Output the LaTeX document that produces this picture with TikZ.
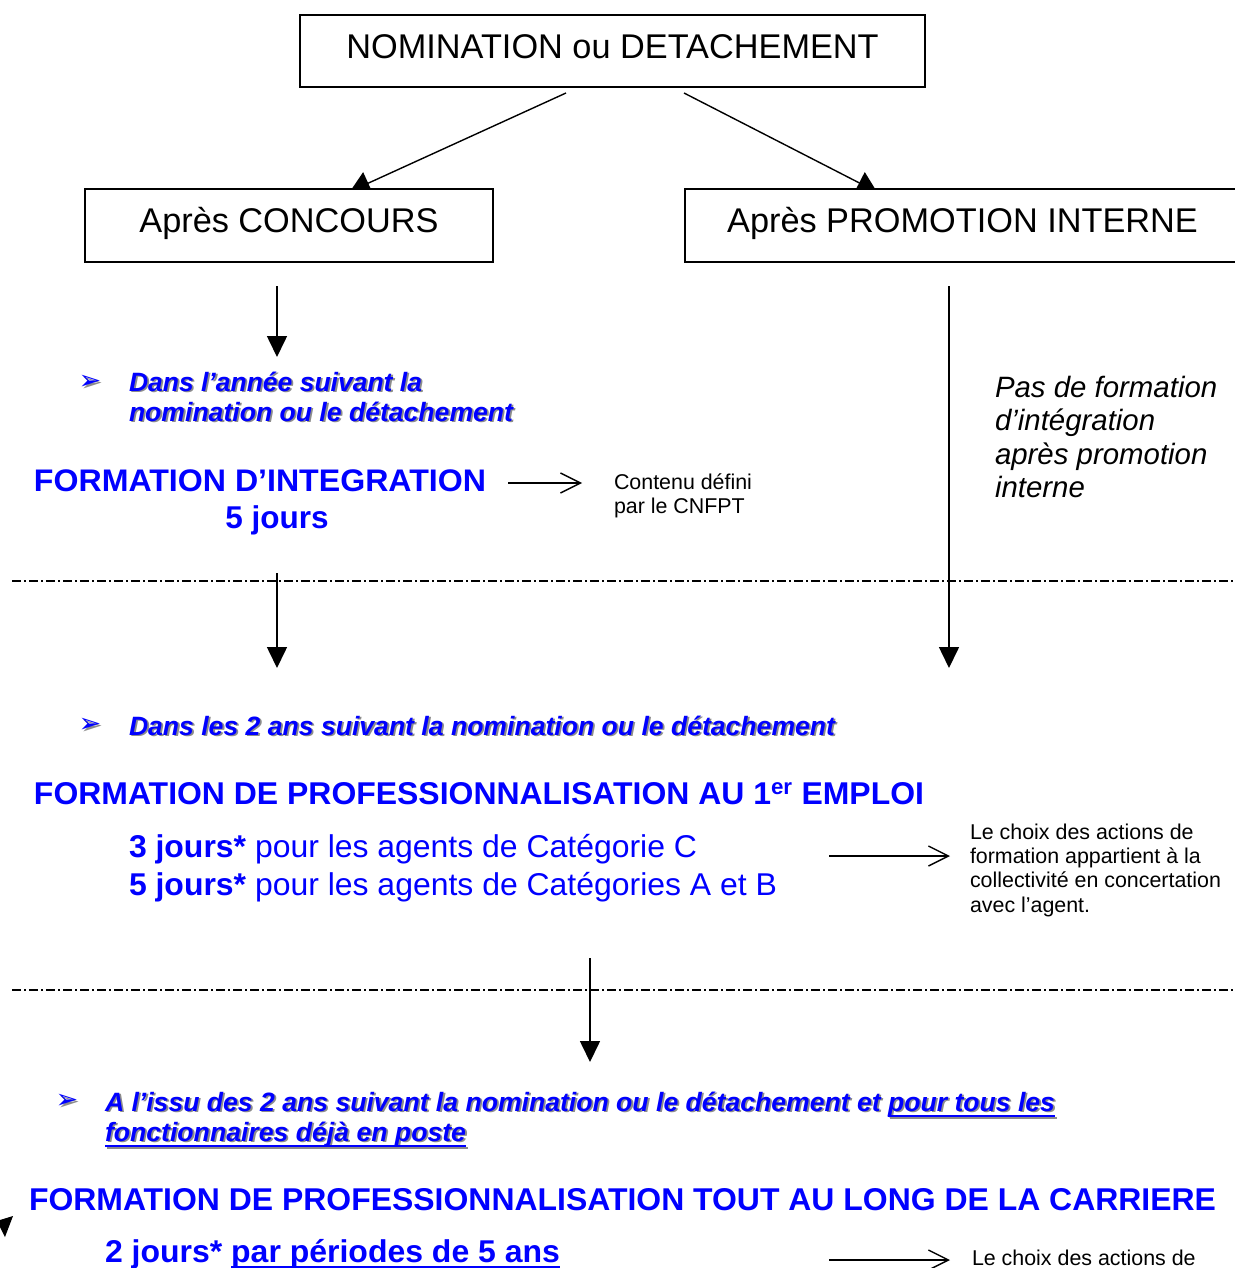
\documentclass[tikz,border=0pt]{standalone}
\usepackage{fontspec}
\setmainfont{Liberation Sans}
\newfontfamily\djv{DejaVu Sans}
\usepackage{graphicx}
\usetikzlibrary{arrows.meta}
\definecolor{myblue}{RGB}{0,0,255}
\definecolor{shadowc}{RGB}{140,140,140}
\newcommand\fs[2]{\fontsize{#1}{#2}\selectfont}
\newcommand\shd[1]{\rlap{\hspace{1.8pt}\raisebox{-1.8pt}{\color{shadowc}#1}}#1}
\newcommand\fw[2]{\resizebox{#1}{\height}{#2}}
\newsavebox\ulbox
\newcommand\myul[1]{\sbox\ulbox{#1}\rlap{\rule[-6pt]{\wd\ulbox}{2pt}}\usebox\ulbox}
\newcommand\lines[1]{\begin{tabular}[t]{@{}l@{}}#1\end{tabular}}
\tikzset{
  boxst/.style={draw, line width=1.6pt, fill=white, inner sep=0pt,
    text height=24.5pt, text depth=10pt, font=\fs{34.3}{40}},
  lbl/.style={anchor=base west, inner sep=0pt, outer sep=0pt},
  bul/.style={anchor=center, inner sep=0pt, text=myblue, font=\djv\fs{27}{30}},
  darr/.style={line width=1.6pt, -{Triangle[length=21pt,width=20pt]}},
  sarr/.style={line width=1.4pt, -{Triangle[length=20pt,width=24pt]}},
  oarr/.style={line width=1.4pt, -{Straight Barb[length=20pt,width=20pt]}},
  ddash/.style={line width=1.7pt, dash pattern=on 9pt off 3pt on 2pt off 3pt},
  bluebi/.style={lbl, text=myblue, font=\fs{26.5}{30}\bfseries\itshape},
  bluebold/.style={lbl, text=myblue, font=\fs{31.5}{36}\bfseries},
  small/.style={lbl, font=\fs{21.4}{24.4}}
}
\begin{document}
\begin{tikzpicture}[x=1pt,y=-1pt]
\useasboundingbox (0,0) rectangle (1234,1268);

% slanted arrows (drawn before the boxes so the boxes hide the tips)
\coordinate (s1) at (566,93);
\coordinate (t1) at (350,191.5);
\coordinate (s2) at (684,93);
\coordinate (t2) at (877,192);
\draw[sarr] (s1) -- (t1);
\draw[sarr] (s2) -- (t2);

% boxes
\node[boxst, minimum width=625pt, minimum height=72pt] (nom) at (612.5,51) {NOMINATION ou DETACHEMENT};
\node[boxst, minimum width=408pt, minimum height=73pt] (conc) at (289,225.5) {Après CONCOURS};
\node[boxst, minimum width=555pt, minimum height=73pt] (promo) at (962.5,225.5) {Après PROMOTION INTERNE};

% dash-dot separators
\coordinate (d1a) at (12,581);
\coordinate (d1b) at (1234,581);
\coordinate (d2a) at (12,990);
\coordinate (d2b) at (1234,990);
\draw[ddash] (d1a) -- (d1b);
\draw[ddash] (d2a) -- (d2b);

% vertical arrows
\coordinate (v1s) at (277,286);
\coordinate (v1e) at (277,357);
\coordinate (v2s) at (277,573);
\coordinate (v2e) at (277,668);
\coordinate (v3s) at (949,286);
\coordinate (v3e) at (949,668);
\coordinate (v4s) at (590,958);
\coordinate (v4e) at (590,1062);
\draw[darr] (v1s) -- (v1e);
\draw[darr] (v2s) -- (v2e);
\draw[darr] (v3s) -- (v3e);
\draw[darr] (v4s) -- (v4e);

% open arrows
\coordinate (o1s) at (508,483);
\coordinate (o1e) at (582,483);
\coordinate (o2s) at (829,856);
\coordinate (o2e) at (950,856);
\coordinate (o3s) at (829,1260);
\coordinate (o3e) at (950,1260);
\draw[oarr] (o1s) -- (o1e);
\draw[oarr] (o2s) -- (o2e);
\draw[oarr] (o3s) -- (o3e);

% section 1
\node[bul] (bu1) at (90,383) {\shd{➢}};
\node[bluebi] (t1a) at (129,391) {\fw{293pt}{\shd{Dans l’année suivant la}}};
\node[bluebi] (t1b) at (129,421) {\fw{384pt}{\shd{nomination ou le détachement}}};
\node[bluebold, font=\fs{31.2}{36}\bfseries] (fi) at (34,491) {\fw{452pt}{FORMATION D’INTEGRATION}};
\node[anchor=base, inner sep=0pt, text=myblue, font=\fs{31.5}{36}\bfseries] (fj) at (277,528) {5 jours};
\node[small] (cont) at (614,489) {\lines{Contenu défini\\par le CNFPT}};
\node[lbl, font=\fs{29.4}{33.5}\itshape] (pas) at (995,397) {\lines{Pas de formation\\d’intégration\\après promotion\\interne}};

% section 2
\node[bul] (bu2) at (90,726) {\shd{➢}};
\node[bluebi] (t2a) at (129,735) {\fw{706pt}{\shd{Dans les 2 ans suivant la nomination ou le détachement}}};
\node[bluebold] (fp1) at (34,804) {\fw{890pt}{FORMATION DE PROFESSIONNALISATION AU 1\textsuperscript{er} EMPLOI}};
\node[bluebold, font=\fs{31.5}{36}] (j3) at (129,857) {\fw{568pt}{\textbf{3 jours*} pour les agents de Catégorie C}};
\node[bluebold, font=\fs{31.5}{36}] (j5) at (129,895) {\fw{648pt}{\textbf{5 jours*} pour les agents de Catégories A et B}};
\node[small] (choix1) at (970,839) {\lines{Le choix des actions de\\formation appartient à la\\collectivité en concertation\\avec l’agent.}};

% section 3
\node[bul] (bu3) at (67,1102) {\shd{➢}};
\node[bluebi] (t3a) at (105,1111) {\fw{950pt}{\shd{A l’issu des 2 ans suivant la nomination ou le détachement et \myul{pour tous les}}}};
\node[bluebi] (t3b) at (105,1141) {\fw{361pt}{\shd{\myul{fonctionnaires déjà en poste}}}};
\node[bluebold] (fp2) at (29,1210) {\fw{1187pt}{FORMATION DE PROFESSIONNALISATION TOUT AU LONG DE LA CARRIERE}};
\node[bluebold] (j2) at (105,1262) {\fw{455pt}{2 jours* \myul{par périodes de 5 ans}}};
\node[small] (choix2) at (972,1265) {Le choix des actions de};

% arrowhead fragment at the lower left edge
\fill (13,1216) -- (0,1220) -- (0,1227) -- (5,1237) -- cycle;
\end{tikzpicture}
\end{document}
